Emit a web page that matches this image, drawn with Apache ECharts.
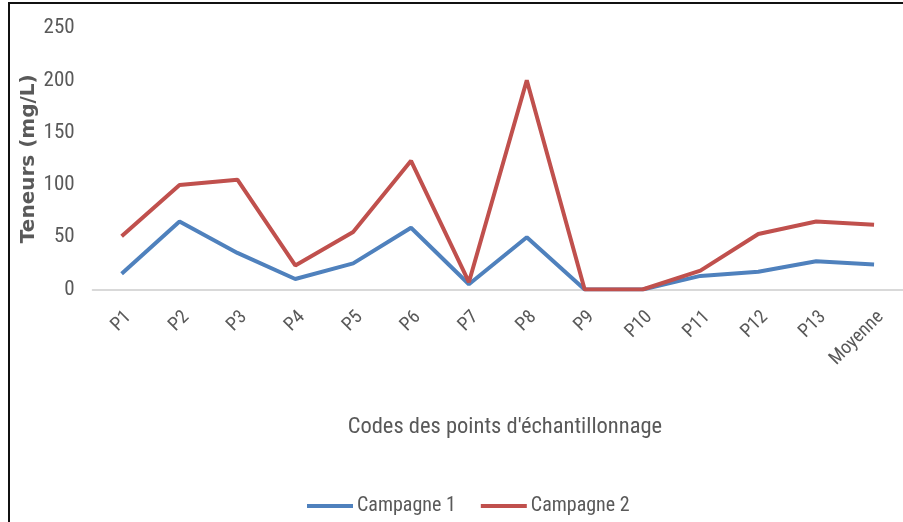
<!DOCTYPE html>
<html><head><meta charset="utf-8">
<script src="https://cdn.jsdelivr.net/npm/echarts@6/dist/echarts.min.js"></script>
<style>html,body{margin:0;padding:0;background:#fff}#c{width:903px;height:522px}</style>
</head><body><div id="c"></div>
<script>
const categories = ['P1','P2','P3','P4','P5','P6','P7','P8','P9','P10','P11','P12','P13','Moyenne'];
const campagne1 = [15, 65, 35, 10, 25, 59, 5, 50, 0, 0, 13, 17, 27, 24];
const campagne2 = [51, 100, 105, 23, 55, 123, 7, 200, 0, 0, 18, 53, 65, 62];
const seriesNames = ['Campagne 1', 'Campagne 2'];
const yTicks = [0, 50, 100, 150, 200, 250];

const narrow = "'Liberation Sans Narrow', 'Arial Narrow', 'Roboto Condensed', sans-serif";
const chart = echarts.init(document.getElementById('c'));
chart.setOption({
  animation: false,
  color: ['#4F81BD', '#C0504D'],
  graphic: [{
    type: 'rect', silent: true,
    shape: { x: 9, y: 3, width: 1000, height: 700 },
    style: { fill: 'none', stroke: '#111', lineWidth: 2 }
  }],
  grid: { left: 92.7, right: -18.5, top: 28, bottom: 232.5, containLabel: false },
  xAxis: {
    type: 'category', data: categories, boundaryGap: true,
    axisLine: { lineStyle: { color: '#d9d9d9', width: 2 } },
    axisTick: { show: false },
    axisLabel: { rotate: 45, margin: 18, verticalAlign: 'top', color: '#595959', fontFamily: narrow, fontSize: 19, interval: 0 },
    name: "Codes des points d'échantillonnage", nameLocation: 'middle', nameGap: 126, nameMoveOverlap: false,
    nameTextStyle: { color: '#595959', fontFamily: narrow, fontSize: 22.5, padding: [0, 0, 0, 14] }
  },
  yAxis: {
    type: 'value', min: yTicks[0], max: yTicks[yTicks.length - 1], interval: 50,
    splitLine: { show: false }, axisLine: { show: false }, axisTick: { show: false },
    axisLabel: { margin: 18, color: '#595959', fontFamily: narrow, fontSize: 21 },
    name: 'Teneurs (mg/L)', nameLocation: 'middle', nameGap: 54, nameMoveOverlap: false,
    nameTextStyle: { color: '#595959', fontFamily: "'DejaVu Sans', sans-serif", fontWeight: 'bold', fontSize: 20 }
  },
  legend: {
    left: 307, top: 496, padding: 0, itemWidth: 46, itemHeight: 4, itemGap: 25, icon: 'rect',
    data: seriesNames,
    textStyle: { color: '#595959', fontFamily: narrow, fontSize: 20, padding: [0,0,0,-1] }
  },
  series: [
    { name: seriesNames[0], type: 'line', data: campagne1, showSymbol: false, lineStyle: { width: 4 } },
    { name: seriesNames[1], type: 'line', data: campagne2, showSymbol: false, lineStyle: { width: 4 } }
  ]
});
</script></body></html>
